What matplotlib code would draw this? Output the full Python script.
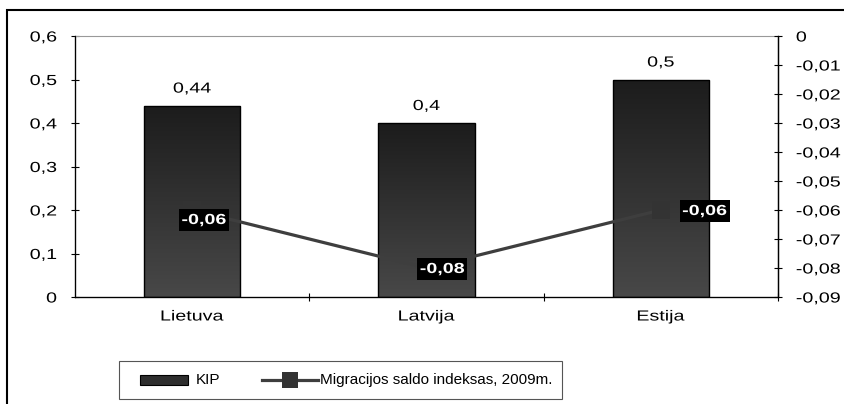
import matplotlib.pyplot as plt
import numpy as np
from matplotlib.patches import Rectangle
from matplotlib.lines import Line2D
from matplotlib.colors import LinearSegmentedColormap
from matplotlib.patheffects import AbstractPathEffect
from matplotlib.transforms import Affine2D, IdentityTransform

plt.rcParams['font.family'] = ['Liberation Sans', 'DejaVu Sans']

# duomenys
salys = ["Lietuva", "Latvija", "Estija"]
kip = [0.44, 0.4, 0.5]
kip_zymes = ["0,44", "0,4", "0,5"]
migracija = [-0.06, -0.08, -0.06]
migr_zymes = ["-0,06", "-0,08", "-0,06"]
kairiosios_zymes = ["0", "0,1", "0,2", "0,3", "0,4", "0,5", "0,6"]
desiniosios_zymes = ["0", "-0,01", "-0,02", "-0,03", "-0,04", "-0,05",
                     "-0,06", "-0,07", "-0,08", "-0,09"]
legendos_tekstai = ["KIP", "Migracijos saldo indeksas, 2009m."]

SX = 1.35   # horizontalus teksto istempimas
FS = 10.5


class Istempimas(AbstractPathEffect):
    """Istempia teksta horizontaliai apie pasirinkta taska."""

    def __init__(self, sx, anchor="center"):
        super().__init__()
        self.sx = sx
        self.anchor = anchor

    def draw_path(self, renderer, gc, tpath, affine, rgbFace=None):
        bb = tpath.get_extents(affine)
        if self.anchor == "left":
            x0 = bb.x0
        elif self.anchor == "right":
            x0 = bb.x1
        else:
            x0 = (bb.x0 + bb.x1) / 2
        t = affine + Affine2D().translate(-x0, 0).scale(self.sx, 1).translate(x0, 0)
        renderer.draw_path(gc, tpath, t, rgbFace)


W, H = 845, 404
fig = plt.figure(figsize=(W / 100, H / 100), dpi=100)
ax = fig.add_axes([75 / W, 1 - 297 / H, (778 - 75) / W, (297 - 36) / H])


def pk(px, py):
    """pikseliai (nuo virsaus) -> figuros koordinates"""
    return px / W, 1 - py / H


x = np.arange(len(salys))
juostos = ax.bar(x, kip, width=0.41, color="#333333", edgecolor="black",
                 linewidth=1.0, zorder=2)

# gradientas juostose (tamsu virsuje, sviesiau apacioje)
grad = np.linspace(0, 1, 256).reshape(-1, 1)
cmap = LinearSegmentedColormap.from_list("g", ["#1c1c1c", "#484848"])
for b in juostos:
    x0, y0 = b.get_x(), b.get_y()
    w, h = b.get_width(), b.get_height()
    im = ax.imshow(grad, cmap=cmap, aspect="auto", origin="upper",
                   extent=[x0, x0 + w, y0, y0 + h], zorder=2.5)
    im.set_clip_path(b)
    b.set_facecolor("none")
    b.set_zorder(3)

for xi, v, t in zip(x, kip, kip_zymes):
    ax.annotate(t, (xi, v), xytext=(0, 17), textcoords="offset pixels",
                ha="center", va="center", fontsize=FS,
                path_effects=[Istempimas(SX)])

ax.set_xlim(-0.5, 2.5)
ax.set_ylim(0, 0.6)
ax.set_yticks(np.arange(0, 0.61, 0.1))
ax.set_yticklabels(kairiosios_zymes)
ax.set_xticks(x)
ax.set_xticklabels(salys)
ax.set_xticks([0.5, 1.5, 2.5], minor=True)
ax.tick_params(axis="x", which="major", length=0, pad=9, labelsize=FS)
ax.tick_params(axis="x", which="minor", direction="inout", length=6, width=0.8)
ax.tick_params(axis="y", direction="inout", length=6, width=0.8, pad=10,
               labelsize=FS)
ax.spines["top"].set_color("#999999")
ax.spines["top"].set_linewidth(0.8)
for s in ["left", "bottom", "right"]:
    ax.spines[s].set_linewidth(0.9)
for lbl in ax.get_yticklabels():
    lbl.set_path_effects([Istempimas(SX, "right")])
for lbl in ax.get_xticklabels():
    lbl.set_path_effects([Istempimas(SX)])

ax2 = ax.twinx()
ax2.set_ylim(-0.09, 0)
ax2.set_yticks(np.linspace(0, -0.09, 10))
ax2.set_yticklabels(desiniosios_zymes)
ax2.tick_params(axis="y", direction="inout", length=6, width=0.8, pad=10,
                labelsize=FS)
ax2.spines["right"].set_linewidth(0.9)
ax2.spines["top"].set_visible(False)
for lbl in ax2.get_yticklabels():
    lbl.set_path_effects([Istempimas(SX, "left")])
ax2.plot(x, migracija, color="#3e3e3e", linewidth=2.3, marker="s",
         markersize=13, markerfacecolor="#333333", markeredgewidth=0, zorder=4)

# reiksmiu zymes juodame staciakampyje (poslinkiai pikseliais)
poslinkiai = [(12, -10), (16, -1), (44, -1)]
for xi, v, t, (dx, dy) in zip(x, migracija, migr_zymes, poslinkiai):
    px, py = ax2.transData.transform((xi, v))
    cx, cy = px + dx, py + dy
    dezute = Rectangle((cx - 25, cy - 11), 50, 22, facecolor="black",
                       edgecolor="none", transform=IdentityTransform(),
                       zorder=5)
    ax2.add_artist(dezute)
    ax2.text(cx, cy, t, transform=IdentityTransform(), ha="center",
             va="center", fontsize=FS, fontweight="bold", color="white",
             zorder=6, path_effects=[Istempimas(SX)])

# legenda (sudeliota ranka)
tf = fig.transFigure
x0, y0 = pk(119, 399)
x1, y1 = pk(562, 361)
fig.patches.append(Rectangle((x0, y0), x1 - x0, y1 - y0, transform=tf,
                             facecolor="white", edgecolor="#555555",
                             linewidth=0.8))
yc = 380
bx0, by0 = pk(140, yc + 5)
bx1, by1 = pk(188, yc - 5)
fig.patches.append(Rectangle((bx0, by0), bx1 - bx0, by1 - by0, transform=tf,
                             facecolor="#2e2e2e", edgecolor="black",
                             linewidth=0.8))
lx0, ly = pk(262, yc)
lx1, _ = pk(318, yc)
lm, _ = pk(290, yc)
fig.lines.append(Line2D([lx0, lx1], [ly, ly], transform=tf, color="#3e3e3e",
                        linewidth=2.3))
fig.lines.append(Line2D([lm], [ly], transform=tf, marker="s", markersize=11,
                        markerfacecolor="#333333", markeredgewidth=0,
                        linestyle="none"))
for px, t in zip([196, 320], legendos_tekstai):
    tx, ty = pk(px, yc)
    fig.text(tx, ty, t, ha="left", va="center", fontsize=11)

# remelis aplink visa diagrama
fig.patches.append(Rectangle((7 / W, -0.1), 1.2, 0.1 + (1 - 10 / H),
                             transform=tf, fill=False,
                             edgecolor="black", linewidth=1.5))

fig.savefig("out.png", dpi=100)
